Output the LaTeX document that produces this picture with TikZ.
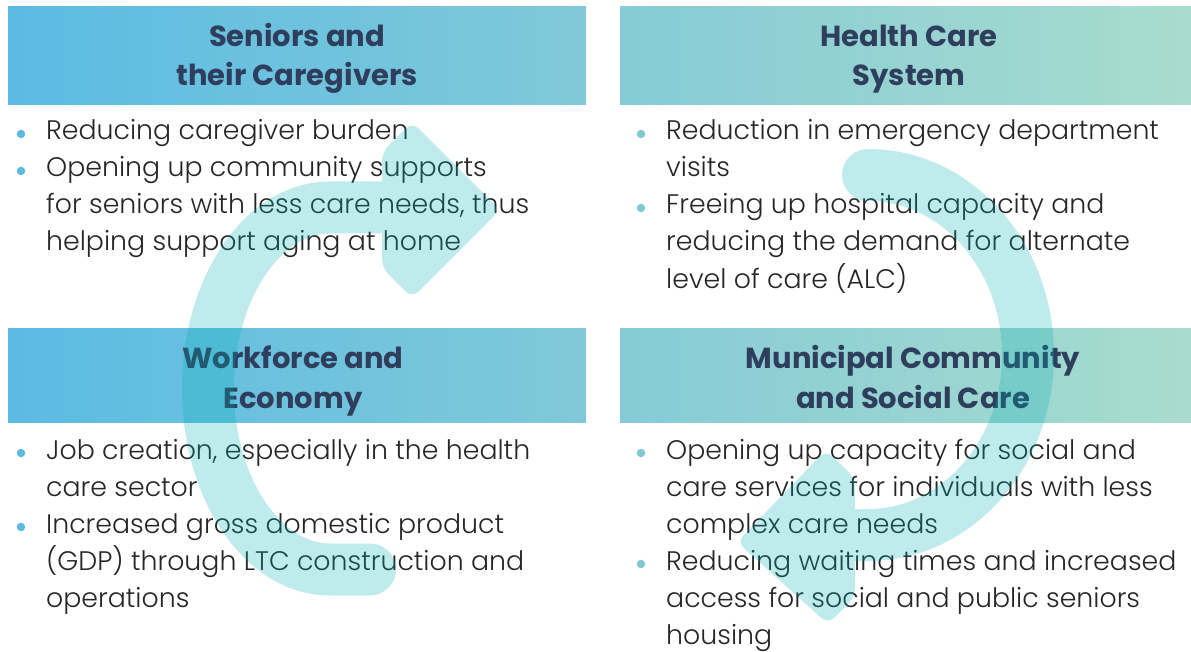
\documentclass[tikz,border=0pt]{standalone}
\usepackage{fontspec}
\setmainfont{Poppins}
\IfFontExistsTF{Poppins Light}
  {\newfontfamily\bodyface{Poppins Light}}
  {\newfontfamily\bodyface{Poppins}}

\definecolor{titleink}{RGB}{46,62,92}
\definecolor{bodyink}{RGB}{38,38,38}
\definecolor{skyA}{RGB}{91,187,227}
\definecolor{skyB}{RGB}{128,201,216}
\definecolor{mintA}{RGB}{133,203,214}
\definecolor{mintB}{RGB}{168,220,206}
\definecolor{dotsky}{RGB}{92,185,226}
\definecolor{dotmint}{RGB}{127,200,212}
\definecolor{swirl}{RGB}{0,175,180}

\tikzset{
  banner/.style 2 args={shade, left color=#1, right color=#2, draw=none,
    inner sep=0pt, anchor=north west, minimum height=98pt},
  title/.style={anchor=base, inner sep=0pt, text=titleink,
    font=\fontsize{29}{39}\selectfont\bfseries},
  % multi-line items are placed by the baseline of their last line
  item/.style={anchor=base west, align=left, inner sep=0pt, text=bodyink,
    font=\bodyface\fontsize{26.8}{37}\selectfont},
  dot/.style={circle, fill=#1, draw=none, inner sep=0pt, minimum size=8.5pt},
  band/.style={draw=swirl, line width=52pt, line cap=round, line join=round},
  head/.style={fill=swirl, rounded corners=9pt}
}

\begin{document}
\begin{tikzpicture}[x=1pt, y=-1pt]
\useasboundingbox (0,0) rectangle (1191,652);

% header banners
\node[banner={skyA}{skyB}, minimum width=578pt]  (bSen) at (8,6) {};
\node[banner={mintA}{mintB}, minimum width=571pt] (bHea) at (620,6) {};
\node[banner={skyA}{skyB}, minimum width=578pt, minimum height=94pt]  (bWor) at (8,328) {};
\node[banner={mintA}{mintB}, minimum width=571pt, minimum height=94pt] (bMun) at (620,328) {};

% banner titles
\node[title] (tSen1) at (297,47) {Seniors and};
\node[title] (tSen2) at (297,86) {their Caregivers};
\node[title] (tHea1) at (909,47) {Health Care};
\node[title] (tHea2) at (909,86) {System};
\node[title] (tWor1) at (293,368) {Workforce and};
\node[title] (tWor2) at (293,408) {Economy};
\node[title] (tMun1) at (913,368) {Municipal Community};
\node[title] (tMun2) at (913,408) {and Social Care};

% seniors and caregivers
\node[dot=dotsky] (dSen1) at (21,134) {};
\node[item] (iSen1) at (46,140) {Reducing caregiver burden};
\node[dot=dotsky] (dSen2) at (21,171) {};
\node[item] (iSen2) at (46,251) {Opening up community supports\\for seniors with less care needs, thus\\helping support aging at home};

% health care system
\node[dot=dotmint] (dHea1) at (641,134) {};
\node[item] (iHea1) at (666,177) {Reduction in emergency department\\visits};
\node[dot=dotmint] (dHea2) at (641,208) {};
\node[item] (iHea2) at (666,288) {Freeing up hospital capacity and\\reducing the demand for alternate\\level of care (ALC)};

% workforce and economy
\node[dot=dotsky] (dWor1) at (21,453) {};
\node[item] (iWor1) at (46,496) {Job creation, especially in the health\\care sector};
\node[dot=dotsky] (dWor2) at (21,527) {};
\node[item] (iWor2) at (46,607) {Increased gross domestic product\\(GDP) through LTC construction and\\operations};

% municipal community and social care
\node[dot=dotmint] (dMun1) at (641,453) {};
\node[item] (iMun1) at (666,533) {Opening up capacity for social and\\care services for individuals with less\\complex care needs};
\node[dot=dotmint] (dMun2) at (641,564) {};
\node[item] (iMun2) at (666,644) {Reducing waiting times and increased\\access for social and public seniors\\housing};

% translucent cycle arrows laid over everything
\begin{scope}[transparency group, opacity=0.25]
  \draw[band] (370,569.5) -- (330,569.5)
    arc[start angle=270, end angle=90, x radius=122pt, y radius=181pt] -- (384,207.5);
  \path[head] (382,152) -- (412,122) -- (500,210) -- (412,298) -- (382,268) -- cycle;
  \draw[band] (868,175)
    arc[start angle=90, end angle=-90, x radius=160pt, y radius=180pt] -- (852,535);
  \path[head] (855,478) -- (826,450) -- (737,542) -- (828,624) -- (855,597) -- cycle;
\end{scope}
\end{tikzpicture}
\end{document}
